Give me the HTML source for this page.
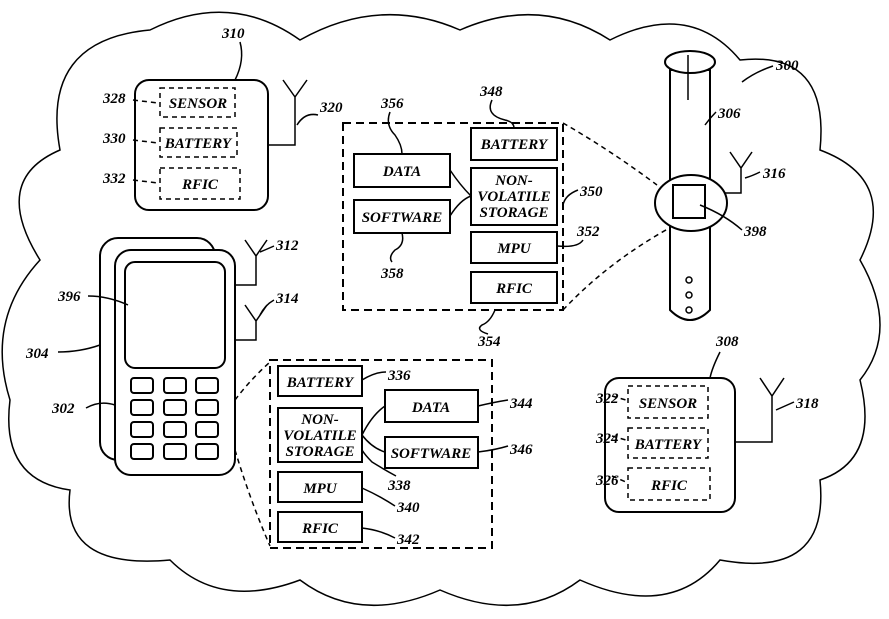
<!DOCTYPE html>
<html><head><meta charset="utf-8"><style>
body{margin:0;background:#fff}
svg{display:block}
text{font-family:"Liberation Serif",serif;font-weight:bold;font-style:italic;font-size:15px;fill:#000}
.b{fill:#fff;stroke:#000;stroke-width:2}
.d{fill:none;stroke:#000;stroke-width:2;stroke-dasharray:8 5}
.ds{fill:none;stroke:#000;stroke-width:1.5;stroke-dasharray:5 4}
.l{fill:none;stroke:#000;stroke-width:1.5}
.c{text-anchor:middle}
</style></head><body>
<svg width="889" height="619" viewBox="0 0 889 619">
<path class="l" stroke-width="2" d="M40,260 Q-10,180 60,150 Q40,40 150,30 Q230,-10 300,40 Q380,-5 460,30 Q540,-5 610,40 Q690,0 740,60 Q830,50 820,150 Q900,180 860,260 Q900,330 860,380 Q880,460 820,480 Q830,580 720,560 Q670,620 580,580 Q520,625 440,590 Q360,625 300,580 Q220,610 170,560 Q60,570 70,490 Q0,480 10,400 Q-15,320 40,260 Z"/>
<!-- 310 -->
<rect class="b" x="135" y="80" width="133" height="130" rx="14"/>
<rect class="ds" x="160" y="88" width="75" height="29"/><text class="c" x="198" y="108">SENSOR</text>
<rect class="ds" x="160" y="128" width="77" height="29"/><text class="c" x="198" y="148">BATTERY</text>
<rect class="ds" x="160" y="168" width="80" height="31"/><text class="c" x="200" y="189">RFIC</text>
<text x="103" y="103">328</text><path class="ds" d="M133,100 L158,103"/>
<text x="103" y="143">330</text><path class="ds" d="M133,140 L158,143"/>
<text x="103" y="183">332</text><path class="ds" d="M133,180 L158,183"/>
<text x="222" y="38">310</text><path class="l" d="M240,42 Q245,60 235,80"/>
<path class="l" d="M283,80 L295,97 L307,80 M295,97 V145 H268"/>
<text x="320" y="112">320</text><path class="l" d="M297,125 Q305,112 318,115"/>
<!-- center box -->
<rect class="d" x="343" y="123" width="220" height="187"/>
<rect class="b" x="354" y="154" width="96" height="33"/><text class="c" x="402" y="176">DATA</text>
<rect class="b" x="354" y="200" width="96" height="33"/><text class="c" x="402" y="222">SOFTWARE</text>
<rect class="b" x="471" y="128" width="86" height="32"/><text class="c" x="514" y="149">BATTERY</text>
<rect class="b" x="471" y="168" width="86" height="57"/><text class="c" x="514" y="185">NON-</text><text class="c" x="514" y="201">VOLATILE</text><text class="c" x="514" y="217">STORAGE</text>
<rect class="b" x="471" y="232" width="86" height="31"/><text class="c" x="514" y="253">MPU</text>
<rect class="b" x="471" y="272" width="86" height="31"/><text class="c" x="514" y="293">RFIC</text>
<path class="l" d="M450,170 Q460,185 471,196 M450,216 Q460,200 471,196"/>
<text x="381" y="108">356</text><path class="l" d="M390,112 Q385,125 395,135 Q402,145 402,154"/>
<text x="480" y="96">348</text><path class="l" d="M492,100 Q485,115 505,120 Q514,122 514,128"/>
<text x="580" y="196">350</text><path class="l" d="M578,190 Q565,195 563,205"/>
<text x="577" y="236">352</text><path class="l" d="M583,240 Q578,248 557,246"/>
<text x="381" y="278">358</text><path class="l" d="M402,233 Q405,245 395,250 Q388,257 392,262"/>
<text x="478" y="346">354</text><path class="l" d="M495,310 Q490,322 482,325 Q475,330 488,334"/>
<path class="ds" d="M563,123 Q610,150 657,185 M563,310 Q610,260 675,225"/>
<!-- watch -->
<path class="b" d="M670,70 L670,310 Q690,330 710,310 L710,70 Z"/>
<ellipse class="b" cx="690" cy="62" rx="25" ry="11"/>
<line class="l" x1="688" y1="55" x2="688" y2="100"/>
<ellipse class="b" cx="691" cy="203" rx="36" ry="28"/>
<rect class="b" x="673" y="185" width="32" height="33"/>
<circle class="l" cx="689" cy="280" r="3"/><circle class="l" cx="689" cy="295" r="3"/><circle class="l" cx="689" cy="310" r="3"/>
<path class="l" d="M730,152 L741,168 L752,152 M741,168 V193 H725"/>
<text x="776" y="70">300</text><path class="l" d="M773,66 Q755,72 742,82"/>
<text x="718" y="118">306</text><path class="l" d="M716,112 Q710,118 705,125"/>
<text x="763" y="178">316</text><path class="l" d="M760,172 Q752,176 745,178"/>
<text x="744" y="236">398</text><path class="l" d="M742,230 Q725,215 700,205"/>
<!-- phone -->
<rect class="b" x="100" y="238" width="115" height="222" rx="18"/>
<rect class="b" x="115" y="250" width="120" height="225" rx="16"/>
<rect class="b" x="125" y="262" width="100" height="106" rx="10"/>
<g class="b">
<rect x="131" y="378" width="22" height="15" rx="3"/><rect x="164" y="378" width="22" height="15" rx="3"/><rect x="196" y="378" width="22" height="15" rx="3"/>
<rect x="131" y="400" width="22" height="15" rx="3"/><rect x="164" y="400" width="22" height="15" rx="3"/><rect x="196" y="400" width="22" height="15" rx="3"/>
<rect x="131" y="422" width="22" height="15" rx="3"/><rect x="164" y="422" width="22" height="15" rx="3"/><rect x="196" y="422" width="22" height="15" rx="3"/>
<rect x="131" y="444" width="22" height="15" rx="3"/><rect x="164" y="444" width="22" height="15" rx="3"/><rect x="196" y="444" width="22" height="15" rx="3"/>
</g>
<path class="l" d="M245,240 L256,256 L267,240 M256,256 V285 H235"/>
<path class="l" d="M245,305 L256,321 L267,305 M256,321 V340 H235"/>
<text x="276" y="250">312</text><path class="l" d="M274,246 Q265,250 260,252"/>
<text x="276" y="303">314</text><path class="l" d="M274,300 Q265,305 260,315"/>
<text x="58" y="301">396</text><path class="l" d="M88,296 Q108,296 128,305"/>
<text x="26" y="358">304</text><path class="l" d="M58,352 Q80,352 100,345"/>
<text x="52" y="413">302</text><path class="l" d="M86,408 Q100,400 115,405"/>
<path class="ds" d="M235,400 Q250,380 270,362 M235,450 Q250,500 270,546"/>
<!-- lower box -->
<rect class="d" x="270" y="360" width="222" height="188"/>
<rect class="b" x="278" y="366" width="84" height="30"/><text class="c" x="320" y="387">BATTERY</text>
<rect class="b" x="278" y="408" width="84" height="54"/><text class="c" x="320" y="424">NON-</text><text class="c" x="320" y="440">VOLATILE</text><text class="c" x="320" y="456">STORAGE</text>
<rect class="b" x="385" y="390" width="93" height="32"/><text class="c" x="431" y="412">DATA</text>
<rect class="b" x="385" y="437" width="93" height="31"/><text class="c" x="431" y="458">SOFTWARE</text>
<rect class="b" x="278" y="472" width="84" height="30"/><text class="c" x="320" y="493">MPU</text>
<rect class="b" x="278" y="512" width="84" height="30"/><text class="c" x="320" y="533">RFIC</text>
<path class="l" d="M362,435 Q372,415 385,406 M362,435 Q372,448 385,452"/>
<text x="388" y="380">336</text><path class="l" d="M386,372 Q375,372 362,380"/>
<text x="510" y="408">344</text><path class="l" d="M508,400 Q495,402 478,406"/>
<text x="510" y="454">346</text><path class="l" d="M508,446 Q495,450 478,452"/>
<text x="388" y="490">338</text><path class="l" d="M396,476 Q385,470 372,462 Q365,455 362,450"/>
<text x="397" y="512">340</text><path class="l" d="M395,506 Q380,496 362,488"/>
<text x="397" y="544">342</text><path class="l" d="M395,538 Q380,530 362,528"/>
<!-- 308 -->
<rect class="b" x="605" y="378" width="130" height="134" rx="14"/>
<rect class="ds" x="628" y="386" width="80" height="32"/><text class="c" x="668" y="408">SENSOR</text>
<rect class="ds" x="628" y="428" width="80" height="30"/><text class="c" x="668" y="449">BATTERY</text>
<rect class="ds" x="628" y="468" width="82" height="32"/><text class="c" x="669" y="490">RFIC</text>
<text x="596" y="403">322</text><path class="ds" d="M612,396 L626,400"/>
<text x="596" y="443">324</text><path class="ds" d="M612,436 L626,440"/>
<text x="596" y="485">326</text><path class="ds" d="M612,476 L626,482"/>
<text x="716" y="346">308</text><path class="l" d="M720,352 Q712,368 710,378"/>
<path class="l" d="M760,378 L772,396 L784,378 M772,396 V442 H735"/>
<text x="796" y="408">318</text><path class="l" d="M794,402 Q785,406 776,410"/>
</svg>
</body></html>
